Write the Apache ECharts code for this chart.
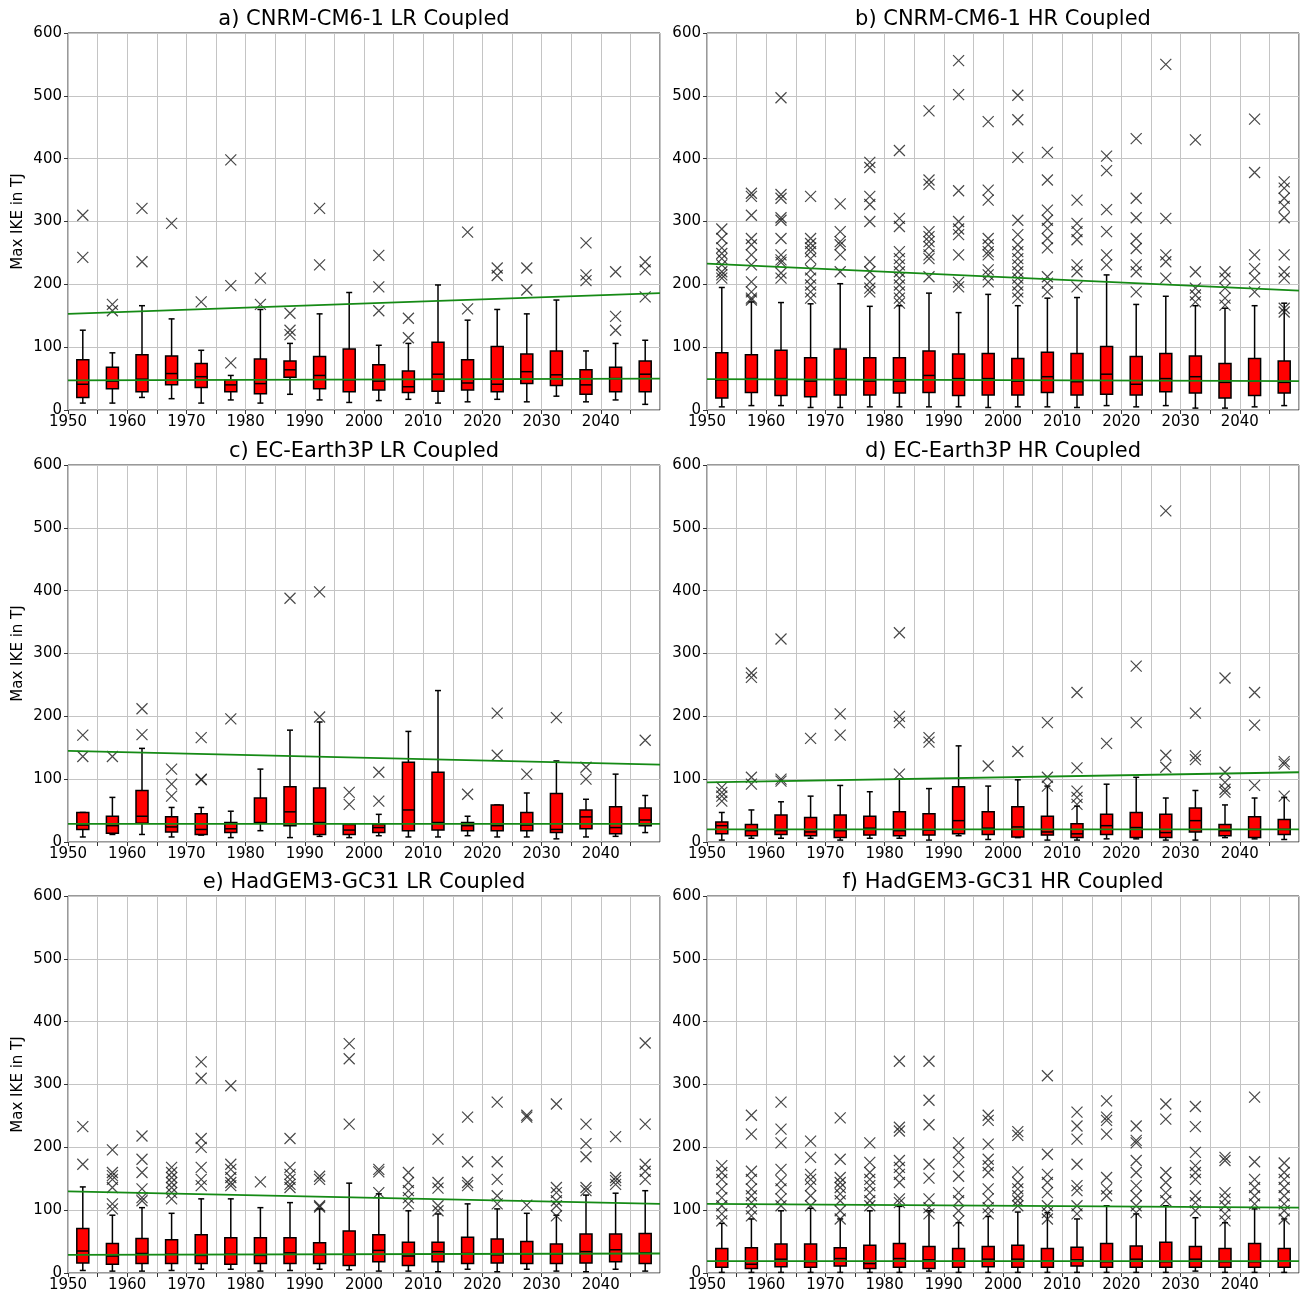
<!DOCTYPE html>
<html>
<head>
<meta charset="utf-8">
<script src="https://cdn.jsdelivr.net/npm/echarts@6/dist/echarts.min.js"></script>
<style>
  html, body { margin: 0; padding: 0; background: #fff; }
  #chart { width: 1300px; height: 1297px; }
</style>
</head>
<body>
<div id="chart"></div>
<script>
'use strict';

// box centres (5-year bins)
var years = [1952.5, 1957.5, 1962.5, 1967.5, 1972.5, 1977.5, 1982.5, 1987.5, 1992.5, 1997.5,
  2002.5, 2007.5, 2012.5, 2017.5, 2022.5, 2027.5, 2032.5, 2037.5, 2042.5, 2047.5];

var titles = ['a) CNRM-CM6-1 LR Coupled', 'b) CNRM-CM6-1 HR Coupled',
  'c) EC-Earth3P LR Coupled', 'd) EC-Earth3P HR Coupled',
  'e) HadGEM3-GC31 LR Coupled', 'f) HadGEM3-GC31 HR Coupled'];

// [min, Q1, median, Q3, max] per bin
var boxA = [[11,20,41,80,127],[11,34,46,68,91],[20,29,49,88,166],[18,40,58,86,145],[11,36,53,74,95],
  [16,29,40,48,55],[11,26,42,81,160],[25,52,64,78,106],[16,34,55,85,153],[12,29,48,97,187],
  [15,32,46,72,103],[17,28,37,62,106],[11,30,57,108,199],[13,32,43,80,143],[17,29,41,101,160],
  [13,42,61,89,153],[22,39,56,94,175],[13,25,40,64,94],[16,29,50,68,106],[9,29,57,78,111]];
var outA = [[310,243],[168,158],[321,236],[297],[172],[398,198,75],[210,168],[154,127,120],[321,231],[],
  [246,196,158],[146,115],[],[283,161],[226,214],[226,191],[],[266,215,206],[220,149,127],[236,223,180]];
var trendA = [[153,186],[47,50]];

var boxB = [[5,19,48,91,195],[7,28,50,88,172],[7,23,50,95,171],[4,21,46,83,169],[4,24,50,97,201],
  [5,24,46,83,165],[5,27,46,83,166],[5,28,55,94,186],[5,23,50,89,155],[4,24,50,90,184],
  [5,24,46,82,166],[5,28,53,92,178],[4,24,45,90,179],[7,25,57,101,215],[5,24,41,85,168],
  [7,29,50,90,181],[3,27,53,86,166],[3,19,44,74,162],[5,23,46,82,166],[7,27,44,78,170]];
var outB = [
  [288,273,258,249,241,231,220,215,210],
  [345,340,310,273,263,247,231,204,188,178,175],
  [497,343,337,306,302,273,247,239,235,218,210],
  [340,273,265,258,252,241,223,210,199,188,178],
  [328,284,268,263,247,220],
  [394,386,340,327,300,236,220,204,194,188],
  [413,305,292,252,241,231,220,210,199,188,178,170],
  [476,366,359,284,276,268,260,247,241,212],
  [556,502,349,300,288,279,247,203,196],
  [459,350,334,273,263,252,247,223,215,204],
  [501,462,402,302,279,263,252,241,231,220,210,199,188,178],
  [410,366,318,302,289,273,258,212,202,188],
  [334,297,284,271,231,220,196],
  [404,381,319,284,247,231],
  [432,337,306,273,257,231,220,188],
  [550,305,247,236,210],
  [430,220,194,183,172],
  [220,210,194,178,167],
  [463,378,247,225,210,188],
  [363,353,337,324,306,247,220,210,162,156]];
var trendB = [[233,190],[49,46]];

var boxC = [[8,20,27,47,47],[12,14,26,41,71],[12,30,41,82,149],[8,16,24,40,55],[11,12,20,45,55],
  [7,15,21,31,49],[18,30,31,70,116],[7,26,48,88,178],[9,12,31,86,191],[7,12,19,28,28],
  [10,15,23,28,44],[8,18,51,127,176],[8,19,31,111,241],[10,18,26,31,41],[8,18,26,59,59],
  [8,18,27,47,78],[5,15,20,77,129],[8,21,40,51,68],[9,13,23,56,108],[15,26,35,54,74]];
var outC = [[170,136],[136],[212,171],[116,92,73],[166,100,99],[196],[],[388],[398,199],[79,60],
  [111,65],[],[],[76],[205,138],[108],[198],[119,100],[],[162]];
var trendC = [[145,123],[29,29]];

var boxD = [[3,13,26,32,47],[6,10,18,28,51],[6,12,18,43,64],[6,10,16,39,73],[3,7,18,43,90],
  [6,11,22,41,80],[6,10,18,48,100],[3,11,19,45,85],[10,13,34,88,153],[4,12,22,48,89],
  [7,8,24,56,99],[3,11,16,41,89],[3,7,13,29,57],[5,12,26,44,92],[5,7,23,47,103],
  [3,7,15,44,70],[3,16,34,54,82],[7,10,18,28,59],[5,7,20,40,70],[4,12,20,36,71]];
var outD = [[87,79,73,65],[269,262,103,92],[323,100,97],[165],[204,170],[],[333,200,190,108],[166,159],[],[121],
  [144],[190,103,89],[238,118,81,71,60],[157],[280,190],[527,138,119],[205,137,131],[261,111,95,84,79],[238,186,90],[128,124,73]];
var trendD = [[95,111],[20,20]];

var boxE = [[4,16,35,71,137],[3,14,27,47,92],[3,15,31,55,104],[4,15,30,53,95],[6,15,28,61,118],
  [6,14,30,56,118],[3,15,28,56,104],[4,15,32,56,112],[6,15,29,48,102],[5,12,29,67,143],
  [3,18,36,61,126],[3,12,27,49,99],[2,18,34,49,94],[6,15,31,57,110],[2,16,29,54,102],
  [6,15,30,50,95],[3,15,30,46,92],[2,16,34,62,124],[6,18,37,62,127],[3,15,32,63,131]];
var outE = [
  [233,173],
  [196,160,155,149,136,110,102],
  [218,181,160,134,120,115],
  [168,160,152,144,136,128,118],
  [336,310,214,200,168,149,139],
  [298,173,165,152,144,139],
  [145],
  [214,168,157,149,141,136],
  [154,149,107,105],
  [365,341,237],
  [165,161,128],
  [160,144,131,120,110],
  [213,144,135,107,99],
  [248,177,144,139],
  [272,177,149,123,110],
  [251,248,108],
  [269,136,128,115,107,91],
  [237,206,185,136,131],
  [217,152,147,141],
  [366,237,173,162,149]];
var trendE = [[130,110],[29,31]];

var boxF = [[1,9,19,39,79],[1,7,14,40,86],[1,10,22,46,99],[1,9,18,46,103],[1,11,23,40,86],
  [1,7,15,44,99],[1,9,23,47,106],[3,7,21,42,99],[1,9,19,39,80],[1,10,22,42,90],
  [1,9,22,44,97],[1,9,19,39,96],[1,11,21,41,86],[1,9,18,47,107],[1,9,22,43,94],
  [1,9,18,49,107],[3,9,22,42,88],[1,9,18,39,80],[1,9,18,47,102],[1,9,19,39,86]];
var outF = [
  [171,160,149,134,120,107,94,83],
  [251,221,162,149,134,123,112,102,91],
  [272,229,207,165,147,134,118,107],
  [210,184,157,149,139,123,107],
  [247,181,152,144,136,126,115,99,86],
  [207,176,160,149,139,128,115,107],
  [337,232,226,179,168,157,144,118,112],
  [337,275,236,173,151,118,104,94],
  [207,192,176,154,128,115,99,83],
  [251,243,205,181,171,160,134,118,104,94],
  [225,219,161,144,134,123,115,107],
  [314,189,157,144,128,107,96,86],
  [256,234,213,173,139,131,107,94],
  [274,248,243,221,152,134,123],
  [234,211,207,179,160,139,123,107,96],
  [269,245,160,144,128,115],
  [265,233,192,171,160,149,123,112,99],
  [184,179,128,118,107,94,83],
  [280,177,149,136,123,110],
  [175,160,149,136,123,110,99,86]];
var trendF = [[110,104],[19,19]];

var panels = [
  {box: boxA, out: outA, trend: trendA},
  {box: boxB, out: outB, trend: trendB},
  {box: boxC, out: outC, trend: trendC},
  {box: boxD, out: outD, trend: trendD},
  {box: boxE, out: outE, trend: trendE},
  {box: boxF, out: outF, trend: trendF}
];

var lefts = [68, 707];
var tops = [33, 465, 896];
var W = 592, H = 377;
var FONT = 'DejaVu Sans';
var BOX_HALF = 6, CAP_HALF = 3;

var chart = echarts.init(document.getElementById('chart'), null, {renderer: 'canvas'});

// matplotlib-style box: red body, black edges, half-width whisker caps
function renderBox(params, api) {
  var x = api.value(0);
  var pMin = api.coord([x, api.value(1)]);
  var pQ1 = api.coord([x, api.value(2)]);
  var pMed = api.coord([x, api.value(3)]);
  var pQ3 = api.coord([x, api.value(4)]);
  var pMax = api.coord([x, api.value(5)]);
  var cx = pQ1[0];
  var line = {stroke: '#000', lineWidth: 1.5};
  return {
    type: 'group',
    children: [
      {type: 'line', shape: {x1: cx, y1: pQ3[1], x2: cx, y2: pMax[1]}, style: line},
      {type: 'line', shape: {x1: cx, y1: pMin[1], x2: cx, y2: pQ1[1]}, style: line},
      {type: 'line', shape: {x1: cx - CAP_HALF, y1: pMax[1], x2: cx + CAP_HALF, y2: pMax[1]}, style: line},
      {type: 'line', shape: {x1: cx - CAP_HALF, y1: pMin[1], x2: cx + CAP_HALF, y2: pMin[1]}, style: line},
      {type: 'rect', shape: {x: cx - BOX_HALF, y: pQ3[1], width: 2 * BOX_HALF, height: pQ1[1] - pQ3[1]},
        style: {fill: '#ff0000', stroke: '#000', lineWidth: 1.5}},
      {type: 'line', shape: {x1: cx - BOX_HALF, y1: pMed[1], x2: cx + BOX_HALF, y2: pMed[1]},
        style: {stroke: '#000', lineWidth: 1.5}}
    ]
  };
}

var grids = [], xAxes = [], yAxes = [], series = [], graphics = [];

panels.forEach(function (p, i) {
  var col = i % 2, row = Math.floor(i / 2);
  grids.push({
    left: lefts[col], top: tops[row], width: W, height: H,
    show: true, borderColor: '#333', borderWidth: 1, backgroundColor: '#fff'
  });
  xAxes.push({
    type: 'value', gridIndex: i, min: 1950, max: 2050, interval: 5,
    axisLine: {show: false},
    axisTick: {show: true, length: 4, lineStyle: {color: '#333'}},
    axisLabel: {
      color: '#000', fontSize: 15, fontFamily: FONT, margin: 5, showMaxLabel: false,
      formatter: function (v) { return v % 10 === 0 ? String(v) : ''; }
    },
    splitLine: {show: true, lineStyle: {color: '#c4c4c4', width: 1}}
  });
  yAxes.push({
    type: 'value', gridIndex: i, min: 0, max: 600, interval: 100,
    name: col === 0 ? 'Max IKE in TJ' : '',
    nameLocation: 'middle', nameGap: 42, nameRotate: 90,
    nameTextStyle: {color: '#000', fontSize: 15, fontFamily: FONT},
    axisLine: {show: false},
    axisTick: {show: true, length: 4, lineStyle: {color: '#333'}},
    axisLabel: {color: '#000', fontSize: 15, fontFamily: FONT, margin: 6},
    splitLine: {show: true, lineStyle: {color: '#c4c4c4', width: 1}}
  });

  series.push({
    type: 'custom', xAxisIndex: i, yAxisIndex: i,
    renderItem: renderBox,
    encode: {x: 0, y: [1, 2, 3, 4, 5]},
    data: p.box.map(function (b, k) { return [years[k]].concat(b); }),
    z: 3
  });

  var pts = [];
  p.out.forEach(function (vals, k) {
    vals.forEach(function (v) { pts.push([years[k], v]); });
  });
  series.push({
    type: 'scatter', xAxisIndex: i, yAxisIndex: i,
    symbol: 'path://M0,0L10,10M10,0L0,10',
    symbolSize: 11,
    data: pts,
    itemStyle: {color: 'rgba(0,0,0,0)', borderColor: '#1a1a1a', borderWidth: 1.2},
    emphasis: {disabled: true},
    z: 4
  });

  p.trend.forEach(function (t) {
    series.push({
      type: 'line', xAxisIndex: i, yAxisIndex: i,
      data: [[1950, t[0]], [2050, t[1]]],
      showSymbol: false, symbol: 'none',
      lineStyle: {color: '#158a15', width: 1.8},
      emphasis: {disabled: true},
      z: 5
    });
  });

  graphics.push({
    type: 'text',
    x: lefts[col] + W / 2, y: tops[row] - 13,
    style: {
      text: titles[i], fill: '#000', font: '21px "DejaVu Sans"',
      fontSize: 21, fontFamily: FONT,
      align: 'center', verticalAlign: 'middle',
      textAlign: 'center', textVerticalAlign: 'middle'
    }
  });
});

var option = {
  animation: false,
  backgroundColor: '#fff',
  grid: grids,
  xAxis: xAxes,
  yAxis: yAxes,
  series: series,
  graphic: graphics
};

chart.setOption(option);
</script>
</body>
</html>
